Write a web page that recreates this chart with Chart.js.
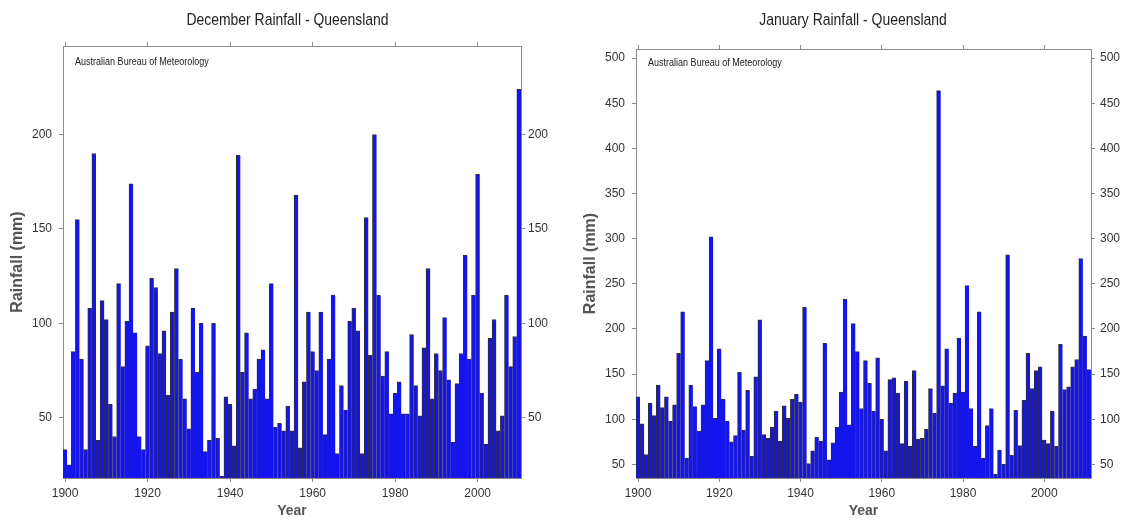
<!DOCTYPE html>
<html lang="en">
<head>
<meta charset="utf-8">
<title>Queensland Rainfall</title>
<script src="https://cdn.jsdelivr.net/npm/chart.js@4"></script>
<style>
  body { margin: 0; background: #fff; }
  #wrap { position: relative; width: 1126px; height: 526px; }
  canvas { position: absolute; top: 0; }
  #decChart { left: 0; }
  #janChart { left: 580px; }
</style>
</head>
<body>
<div id="wrap">
  <canvas id="decChart" width="575" height="526"></canvas>
  <canvas id="janChart" width="546" height="526"></canvas>
</div>
<script>
// December rainfall (mm), one value per year starting 1900
const decFirstYear = 1900;
const decRain = [
  33, 25, 85, 155, 81, 33, 108, 190, 38, 112,
  102, 57, 40, 121, 77, 101, 174, 95, 40, 33,
  88, 124, 119, 84, 96, 62, 106, 129, 81, 60,
  44, 108, 74, 100, 32, 38, 100, 39, 19, 61,
  57, 35, 189, 74, 95, 60, 65, 81, 86, 60,
  121, 45, 47, 43, 56, 43, 168, 34, 69, 106,
  85, 75, 106, 41, 81, 115, 31, 67, 54, 101,
  108, 96, 31, 156, 83, 200, 115, 72, 85, 52,
  63, 69, 52, 52, 94, 67, 51, 87, 129, 60,
  84, 75, 103, 70, 37, 68, 84, 136, 81, 115,
  179, 63, 36, 92, 102, 43, 51, 115, 77, 93,
  224
];

// January rainfall (mm), one value per year starting 1900
const janFirstYear = 1900;
const janRain = [
  125, 95, 61, 118, 104, 138, 113, 125, 98, 116,
  173, 219, 57, 138, 114, 87, 116, 165, 302, 101,
  178, 122, 98, 75, 82, 152, 88, 132, 59, 147,
  210, 83, 79, 91, 109, 76, 115, 101, 122, 128,
  119, 224, 51, 65, 80, 76, 184, 55, 74, 91,
  130, 233, 94, 206, 175, 112, 165, 140, 109, 168,
  100, 65, 144, 146, 129, 73, 142, 70, 154, 78,
  79, 89, 134, 107, 464, 137, 178, 118, 129, 190,
  130, 248, 112, 70, 219, 57, 93, 112, 39, 66,
  50, 282, 60, 110, 71, 121, 173, 134, 154, 158,
  77, 73, 109, 70, 183, 133, 136, 158, 166, 278,
  192, 155
];

const yearTicks = [1900, 1920, 1940, 1960, 1980, 2000];
const decRainTicks = [50, 100, 150, 200];
const janRainTicks = [50, 100, 150, 200, 250, 300, 350, 400, 450, 500];
const sourceNote = 'Australian Bureau of Meteorology';

const frameColor = '#8c8c8c';
const baseFont = "'Liberation Sans', Arial, sans-serif";
Chart.defaults.font.family = baseFont;
Chart.defaults.color = '#333';

// no narrow face is installed, so squeeze the normal one (Arial Narrow look)
function narrowText(ctx, text, x, y, size, align) {
  ctx.save();
  ctx.font = size + 'px ' + baseFont;
  ctx.fillStyle = '#222';
  ctx.textAlign = align;
  ctx.textBaseline = 'middle';
  ctx.translate(x, y);
  ctx.scale(0.82, 1);
  ctx.fillText(text, 0, 0);
  ctx.restore();
}

// chart title above the frame and source note inside it
const headingPlugin = {
  id: 'heading',
  afterDraw(chart, args, opts) {
    const {ctx, chartArea} = chart;
    narrowText(ctx, opts.title, chart.width / 2, 20, 17, 'center');
    narrowText(ctx, opts.note, chartArea.left + 12, chartArea.top + opts.noteY, 11, 'left');
  }
};

function setTicks(list) {
  return scale => { scale.ticks = list.map(v => ({value: v})); };
}

function rainChart(id, title, firstYear, rain, rainTicks, yMin, yMax, box) {
  const xMin = firstYear - 0.5;
  const xMax = firstYear + rain.length - 0.5;
  const gridOpts = {drawOnChartArea: false, tickLength: 4, color: frameColor, offset: false};
  return new Chart(document.getElementById(id), {
    type: 'bar',
    data: {
      datasets: [{
        data: rain.map((v, i) => ({x: firstYear + i, y: v})),
        backgroundColor: '#1414ee',
        borderColor: '#303030',
        borderWidth: {top: 1, left: 1, right: 0, bottom: 0},
        borderSkipped: false,
        barPercentage: 1,
        categoryPercentage: 1
      }]
    },
    options: {
      responsive: false,
      animation: false,
      layout: {padding: {top: 42}},
      plugins: {
        legend: {display: false},
        tooltip: {enabled: false},
        title: {display: false},
        heading: {title: title, note: sourceNote, noteY: box.noteY}
      },
      scales: {
        x: {
          type: 'linear',
          position: 'bottom',
          offset: false,
          bounds: 'data',
          min: xMin,
          max: xMax,
          afterBuildTicks: setTicks(yearTicks),
          afterFit: s => { s.height = 48; },
          grid: gridOpts,
          border: {color: frameColor},
          ticks: {padding: 4, font: {size: 12}, callback: v => String(v)},
          title: {
            display: true, text: 'Year', color: '#555',
            font: {size: 14, weight: 'bold'},
            padding: {top: 0, bottom: 6}
          }
        },
        x2: {
          type: 'linear',
          position: 'top',
          offset: false,
          bounds: 'data',
          min: xMin,
          max: xMax,
          afterBuildTicks: setTicks(yearTicks),
          afterFit: s => { s.height = box.topAxis; },
          grid: gridOpts,
          border: {color: frameColor},
          ticks: {display: false}
        },
        y: {
          position: 'left',
          min: yMin,
          max: yMax,
          afterBuildTicks: setTicks(rainTicks),
          afterFit: s => { s.width = box.left; },
          grid: gridOpts,
          border: {color: frameColor},
          ticks: {padding: 7, font: {size: 12}},
          title: {
            display: true, text: 'Rainfall (mm)', color: '#555',
            font: {size: 16, weight: 'bold'},
            padding: {top: box.titlePad, bottom: 0}
          }
        },
        y2: {
          position: 'right',
          min: yMin,
          max: yMax,
          afterBuildTicks: setTicks(rainTicks),
          afterFit: s => { s.width = box.right; },
          grid: gridOpts,
          border: {color: frameColor},
          ticks: {padding: box.rightPad, font: {size: 12}}
        }
      }
    },
    plugins: [headingPlugin]
  });
}

rainChart('decChart', 'December Rainfall - Queensland', decFirstYear, decRain,
  decRainTicks, 18, 247, {left: 63, right: 54, topAxis: 4, titlePad: 8, rightPad: 3, noteY: 16});
rainChart('janChart', 'January Rainfall - Queensland', janFirstYear, janRain,
  janRainTicks, 35, 510, {left: 56, right: 35, topAxis: 7, titlePad: 1, rightPad: 5, noteY: 14});
</script>
</body>
</html>
